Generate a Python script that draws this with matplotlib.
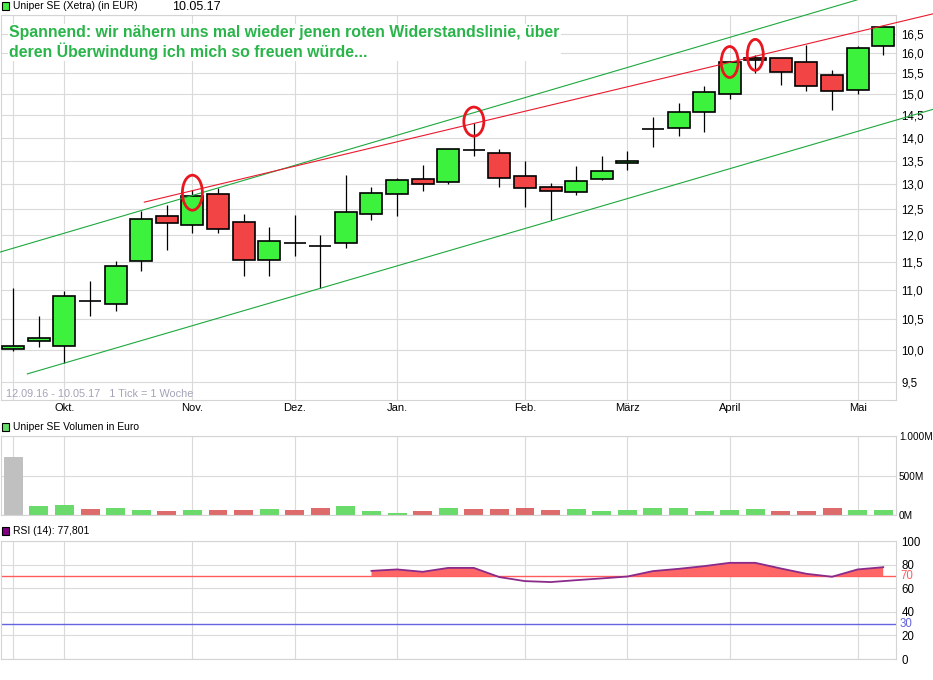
import numpy as np
import pandas as pd
import matplotlib
matplotlib.use("Agg")
import matplotlib.pyplot as plt
from matplotlib.patches import Rectangle, Ellipse
from matplotlib.ticker import FixedLocator, NullLocator
from matplotlib.transforms import IdentityTransform, offset_copy

plt.rcParams['font.family'] = ['Liberation Sans', 'DejaVu Sans']

W, H, DPI = 933, 680, 100

# ---- weekly Uniper SE (Xetra) prices in EUR ----
week_start = pd.date_range("2016-09-12", periods=35, freq="7D")
opens = [10.01, 10.15, 10.06, 10.81, 10.75, 11.51, 12.36, 12.20, 12.81, 12.24,
         11.53, 11.84, 11.79, 11.84, 12.40, 12.81, 13.12, 13.04, 13.72, 13.67,
         13.18, 12.94, 12.85, 13.12, 13.44, 14.19, 14.22, 14.57, 15.01, 15.89,
         15.87, 15.79, 15.47, 15.09, 16.19]
highs = [11.04, 10.55, 10.98, 11.15, 11.51, 12.47, 12.58, 12.88, 12.92, 12.40,
         12.15, 12.38, 12.00, 13.19, 12.94, 13.14, 13.40, 13.75, 14.33, 13.74,
         13.49, 13.02, 13.38, 13.59, 13.70, 14.47, 14.79, 15.19, 15.80, 15.95,
         15.87, 16.22, 15.59, 16.18, 16.67]
lows = [9.99, 10.05, 9.79, 10.55, 10.64, 11.34, 11.71, 12.03, 12.04, 11.25,
        11.25, 11.61, 11.03, 11.76, 12.28, 12.37, 12.87, 13.00, 13.60, 12.95,
        12.55, 12.28, 12.79, 13.09, 13.30, 13.79, 14.03, 14.13, 14.89, 15.51,
        15.21, 15.07, 14.63, 15.00, 15.95]
closes = [10.07, 10.19, 10.90, 10.81, 11.43, 12.30, 12.22, 12.76, 12.12, 11.53,
          11.88, 11.84, 11.79, 12.45, 12.83, 13.10, 13.00, 13.74, 13.72, 13.14,
          12.92, 12.87, 13.06, 13.27, 13.50, 14.19, 14.57, 15.06, 15.77, 15.83,
          15.54, 15.19, 15.07, 16.14, 16.67]

# weekly turnover in million EUR
volume_m = [734, 114, 127, 76, 89, 63, 51, 63, 63, 63, 76, 63, 89, 114, 51, 25,
            51, 89, 76, 76, 89, 63, 76, 51, 63, 89, 89, 51, 63, 76, 51, 51, 89,
            63, 63]

# RSI(14), first value in week 14
rsi_start = 14
rsi_values = [74.7, 75.9, 73.9, 77.2, 77.2, 69.4, 66.0, 65.2, 66.8, 68.3, 69.9,
              74.5, 76.4, 78.7, 81.5, 81.5, 76.7, 72.2, 69.7, 75.9, 77.801]

# hand-drawn trend channel (week index, price)
upper_channel = [(-0.51, 11.68), (32.97, 17.41)]
lower_channel = [(0.55, 9.63), (35.94, 14.64)]
resistance = [(5.12, 12.64), (35.94, 17.03)]

# touches of the resistance line that are circled
circle_weeks = [7, 18, 28, 29]
circle_prices = [12.83, 14.36, 15.78, 15.96]
circle_sizes = [(20, 35), (20, 29), (17, 31), (16, 31)]

price_ticks = [9.5, 10.0, 10.5, 11.0, 11.5, 12.0, 12.5, 13.0, 13.5, 14.0,
               14.5, 15.0, 15.5, 16.0, 16.5]
month_short = {9: "Sep.", 10: "Okt.", 11: "Nov.", 12: "Dez.", 1: "Jan.",
               2: "Feb.", 3: "März", 4: "April", 5: "Mai"}

GREEN = "#3df23d"
RED = "#f24444"
GRID = "#dadada"
SPINE = "#d4d4d4"

fig = plt.figure(figsize=(W / DPI, H / DPI), dpi=DPI)


def px_axes(x0, y0, x1, y1):
    return fig.add_axes([x0 / W, 1 - y1 / H, (x1 - x0) / W, (y1 - y0) / H])


ax = px_axes(0.5, 15, 896, 400)
axv = px_axes(0.5, 436, 896, 515)
axr = px_axes(0.5, 541, 896, 659)

n = len(closes)
idx = np.arange(n)

# month gridlines: the week that contains the first day of a month
grid_pos, grid_lab = [0], [""]
for i, d in enumerate(week_start):
    end = d + pd.Timedelta(days=6)
    if i > 0 and (end.month != d.month or d.day == 1):
        grid_pos.append(i)
        grid_lab.append(month_short[end.month])

for a in (ax, axv, axr):
    a.set_xlim(-0.5, n - 0.5)
    a.set_facecolor("white")
    for s in a.spines.values():
        s.set_color(SPINE)
        s.set_linewidth(0.8)
    a.xaxis.set_major_locator(FixedLocator(grid_pos))
    a.grid(True, which="major", color=GRID, linewidth=0.8)
    a.set_axisbelow(True)
    a.yaxis.tick_right()
    a.tick_params(axis="both", length=0, labelsize=8.3, pad=3)
    a.tick_params(axis="y", pad=4)

# ---- price panel ----
ax.set_yscale("log")
ax.set_ylim(9.24, 17.0)
ax.yaxis.set_major_locator(FixedLocator(price_ticks + [17.0]))
ax.yaxis.set_minor_locator(NullLocator())
ax.set_yticklabels([f"{v:.1f}".replace(".", ",") for v in price_ticks] + [""])
ax.set_xticklabels(grid_lab)
ax.tick_params(axis="x", pad=2, labelsize=8)

body_w = 0.86
for i in idx:
    o, h, l, c = opens[i], highs[i], lows[i], closes[i]
    ax.vlines(i, l, h, color="black", linewidth=0.9, zorder=3)
    lo, hi = min(o, c), max(o, c)
    face = GREEN if c > o else (RED if c < o else "black")
    ax.add_patch(Rectangle((i - body_w / 2, lo), body_w, hi - lo,
                           facecolor=face, edgecolor="black", linewidth=1.2,
                           zorder=4))

for pts, col in ((upper_channel, "#1ea83e"), (lower_channel, "#1ea83e"),
                 (resistance, "#ea1a2e")):
    xs, ys = zip(*pts)
    ax.plot(xs, ys, color=col, linewidth=0.8, clip_on=False, zorder=5)

ax.text(6 / 896, 1 / 385, "12.09.16 - 10.05.17   1 Tick = 1 Woche",
        transform=ax.transAxes, fontsize=7.8, color="#a3a3b8",
        ha="left", va="bottom")

# ---- volume panel ----
vol_colors = ["#c0c0c0"] + [("#6adb6a" if closes[i] >= closes[i - 1] else "#de6b6b")
                            for i in range(1, n)]
axv.bar(idx, volume_m, width=0.74, color=vol_colors, zorder=2)
axv.set_ylim(0, 1000)
axv.yaxis.set_major_locator(FixedLocator([0, 500, 1000]))
axv.set_yticklabels(["0M", "500M", "1.000M"])
axv.tick_params(axis="y", labelsize=7.2, pad=2)
axv.set_xticklabels([])

# ---- RSI panel ----
rsi_x = np.arange(rsi_start, rsi_start + len(rsi_values))
rsi = np.array(rsi_values)
axr.set_ylim(0, 100)
axr.yaxis.set_major_locator(FixedLocator([0, 20, 40, 60, 80, 100]))
axr.set_xticklabels([])
axr.axhline(70, color="#ff5c5c", linewidth=1.0, zorder=2)
axr.axhline(30, color="#6464e0", linewidth=1.0, zorder=2)
axr.fill_between(rsi_x, rsi, 70, where=rsi >= 70, interpolate=True,
                 color="#ff6666", linewidth=0, zorder=3)
axr.plot(rsi_x, rsi, color="#8a2a8a", linewidth=1.3, zorder=4)
lvl_tr = offset_copy(axr.get_yaxis_transform(), fig=fig, x=4, y=0, units="dots")
axr.text(1.0, 70, "70", transform=lvl_tr, color="#ff5c5c",
         fontsize=8.3, va="center", ha="left")
axr.text(1.0, 30, "30", transform=lvl_tr, color="#6464e0",
         fontsize=8.3, va="center", ha="left")


# ---- legends and headline ----
def legend_box(y, color, label):
    fig.add_artist(Rectangle((2 / W, 1 - (y + 4) / H), 7 / W, 8 / H,
                             transform=fig.transFigure, facecolor=color,
                             edgecolor="black", linewidth=0.8))
    fig.text(13 / W, 1 - y / H, label, fontsize=7.5, va="center", ha="left")


legend_box(6, "#44ee44", "Uniper SE (Xetra) (in EUR)")
legend_box(427, "#66dd66", "Uniper SE Volumen in Euro")
legend_box(531, "#800080", f"RSI (14): {rsi_values[-1]:.3f}".replace(".", ","))
fig.text(172 / W, 1 - 7 / H, week_start[-1].replace(day=10).strftime("%d.%m.%y"),
         fontsize=9, va="center", ha="left")

fig.text(9 / W, 1 - 42.5 / H,
         "Spannend: wir nähern uns mal wieder jenen roten Widerstandslinie, über\n"
         "deren Überwindung ich mich so freuen würde...",
         fontsize=11.4, fontweight="bold", color="#2ab54a", ha="left",
         va="center", linespacing=1.15,
         bbox=dict(facecolor="white", edgecolor="none", pad=1))

# circles around the touches of the resistance line
fig.canvas.draw()
for wk, pr, (ew, eh) in zip(circle_weeks, circle_prices, circle_sizes):
    cx, cy = ax.transData.transform((wk, pr))
    fig.add_artist(Ellipse((cx, cy), ew, eh, transform=IdentityTransform(),
                           fill=False, edgecolor="#e8161f", linewidth=2.0,
                           zorder=10))

fig.savefig("out.png", dpi=DPI)
